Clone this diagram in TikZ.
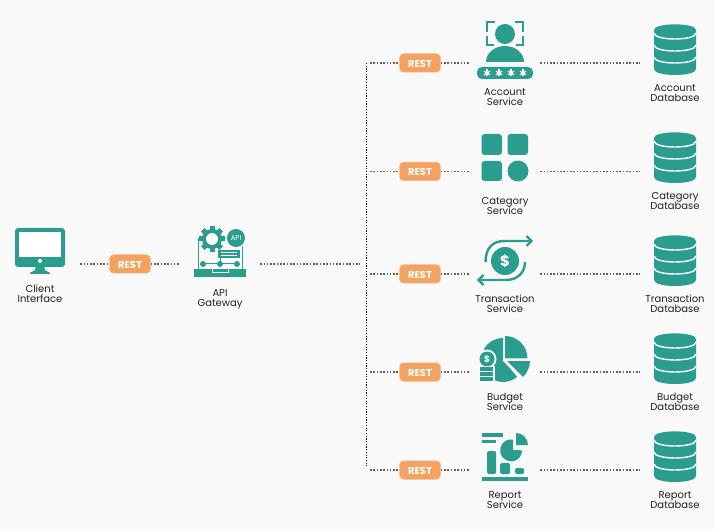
\documentclass[tikz,border=0pt]{standalone}
\usepackage{xcolor}
\usepackage{fontspec}
\setmainfont{Poppins}
\usetikzlibrary{positioning, calc}

\definecolor{teal}{HTML}{2A9D8F}
\definecolor{restorange}{HTML}{F4A261}
\definecolor{pagebg}{HTML}{F9F9F9}
\definecolor{labeltext}{HTML}{222222}

\newcommand{\capfont}{\fontsize{10}{10}\selectfont\lineskiplimit=-10pt\relax}

\tikzset{
    restbox/.style={fill=restorange, draw=restorange!70!white, line width=0.5pt, rounded corners=4pt, minimum width=41pt, minimum height=18.5pt, inner sep=0pt, text=white, text height=8.5pt, text depth=0pt, font=\fontsize{10}{10}\bfseries\selectfont},
    iconbox/.style={minimum width=70pt, minimum height=20pt, inner sep=0pt},
    gatebox/.style={minimum width=80pt, minimum height=20pt, inner sep=0pt},
    caption/.style={align=center, inner sep=0pt, text=labeltext, font=\capfont},
    link/.style={draw=black!62, line width=1.5pt, dash pattern=on 1.6pt off 1.7pt},
    busline/.style={draw=black, line width=1pt, dash pattern=on 1.2pt off 1.5pt},
    whitetext/.style={text=white, inner sep=0pt},
}

\begin{document}
\begin{tikzpicture}[x=1pt, y=1pt, yscale=-1]
    \path[use as bounding box, fill=pagebg] (0,0) rectangle (715,529);

    % Left part
    \node[gatebox] (client) at (40,264) {};
    \node[restbox] (restclient) at (130,264) {REST};
    \node[gatebox] (gateway) at (220,264) {};
    \coordinate (gatewayend) at (360,264);
    \draw[link] (client.east) -- (restclient.west);
    \draw[link] (restclient.east) -- (gateway.west);
    \draw[link] (gateway.east) -- (gatewayend);
    \node[caption] (clientlabel) at (40,294) {Client\\Interface};
    \node[caption] (gatewaylabel) at (220,299.5) {API\\Gateway};

    % Vertical line
    \coordinate (bustop) at (366,63);
    \coordinate (busbottom) at (366,466);
    \draw[busline] (bustop) -- (busbottom);

    % Service rows
    \foreach \name/\title/\rowy/\capy/\dby/\dbcapy in {
        account/Account/63/97.5/50/93,
        category/Category/171.5/206/158/201,
        transaction/Transaction/274/304/261/304,
        budget/Budget/372/402/359/402,
        report/Report/470/500/457/500} {
        \coordinate (\name start) at (370,\rowy);
        \node[restbox] (rest\name) at (420,\rowy) {REST};
        \node[iconbox] (\name) at (505,\rowy) {};
        \node[iconbox] (\name db) at (675,\rowy) {};
        \draw[link] (\name start) -- (rest\name.west);
        \draw[link] (rest\name.east) -- (\name.west);
        \draw[link] (\name.east) -- (\name db.west);
        \node[caption] (\name label) at (505,\capy) {\title\\Service};
        \node[caption] (\name dblabel) at (675,\dbcapy) {\title\\Database};
        % Database
        \begin{scope}[shift={(675,\dby)}]
            \fill[teal] (-21,-20) .. controls (-21,-27.5) and (21,-27.5) .. (21,-20) -- (21,19) .. controls (21,27) and (-21,27) .. (-21,19) -- cycle;
            \foreach \y in {-17,-5,7} {
                \draw[white, line width=1.4pt] (-21,\y) .. controls (-21,{\y+8}) and (21,{\y+8}) .. (21,\y);
            }
        \end{scope}
    }

    % Client icon
    \fill[teal, rounded corners=3pt] (15,228) rectangle (65,267);
    \fill[white] (19,232) rectangle (61,257);
    \fill[white] (40,261) circle (2);
    \fill[teal] (36,266) -- (44,266) -- (45,270) -- (50,273) -- (50,274) -- (30,274) -- (30,273) -- (35,270) -- cycle;

    % Gateway icon
    \draw[teal, line width=1pt] (198,269) -- (198,239) -- (242,239) -- (242,269);
    \fill[teal] (212,239) circle (10);
    \foreach \a in {0,45,...,315} {
        \fill[teal, rotate around={\a:(212,239)}] (209.5,226) rectangle (214.5,232);
    }
    \fill[pagebg] (212,239) circle (6);
    \fill[pagebg] (236,238) circle (10.5);
    \fill[teal] (236,238) circle (9);
    \node[whitetext, font=\fontsize{7}{8}\selectfont] (apitag) at (236,238) {API};
    \fill[teal] (218,250) rectangle (240,258);
    \draw[white, line width=0.5pt] (221,252.5) -- (237,252.5) (221,255.5) -- (237,255.5);
    \draw[teal, line width=1pt] (203,264) -- (237,264) (220,264) -- (220,256);
    \foreach \x in {203,220,237} {
        \fill[teal] (\x,264) circle (3);
    }
    \fill[teal] (194,269) rectangle (246,277);
    \draw[white, line width=0.7pt] (212,269) -- (212,272) -- (228,272) -- (228,269);

    % Account icon
    \fill[teal] (505,34) circle (10);
    \fill[teal] (486,62) arc[start angle=180, end angle=360, x radius=19, y radius=16] -- cycle;
    \fill[teal, rounded corners=5pt] (477,67) rectangle (533,79);
    \foreach \x in {487,499,511,523} {
        \foreach \a in {0,60,120} {
            \draw[white, line width=1.2pt, rotate around={\a:(\x,73)}] (\x,69.5) -- (\x,76.5);
        }
    }
    \draw[teal, line width=1.3pt] (495,22) -- (487,22) -- (487,32)
        (515,22) -- (523,22) -- (523,32)
        (487,36) -- (487,45) -- (494,45)
        (523,36) -- (523,45) -- (516,45);

    % Category icon
    \fill[teal, rounded corners=3pt] (481.5,134) rectangle (502,155);
    \fill[teal, rounded corners=3pt] (507.5,134) rectangle (528,155);
    \fill[teal, rounded corners=3pt] (481.5,161) rectangle (502,181);
    \fill[teal] (518,171) circle (10.5);

    % Transaction icon
    \fill[teal] (505,261) circle (14);
    \node[whitetext, font=\fontsize{15}{18}\bfseries\selectfont] (txdollar) at (505,261) {\$};
    \draw[teal, line width=2.4pt] (485.5,262) .. controls (485.5,248) and (493,241) .. (504,241) -- (530,241);
    \draw[teal, line width=2.2pt, line join=miter] (526.5,236) -- (531.5,241) -- (526.5,246);
    \draw[teal, line width=2.4pt] (525,262) .. controls (525,273) and (517,280) .. (506,280) -- (480,280);
    \draw[teal, line width=2.2pt, line join=miter] (483.5,275) -- (478.5,280) -- (483.5,285);

    % Budget icon
    \fill[teal] (503,360) -- ++(-90:22) arc[start angle=-90, end angle=-310, radius=22] -- cycle;
    \fill[teal] (505,358.5) -- (505,336) arc[start angle=-90, end angle=0, radius=22.5] -- cycle;
    \fill[teal] (507,361) -- (530,361) .. controls (530,367) and (527,373) .. (523,377) -- cycle;
    \draw[pagebg, line width=1.2pt] (503,360) -- (522,379);
    \fill[pagebg] (487,359) circle (9.5);
    \fill[teal] (487,359) circle (7.5);
    \node[whitetext, font=\fontsize{9}{10}\bfseries\selectfont] (coindollar) at (487,359) {\$};
    \fill[pagebg] (478,366) rectangle (495,382);
    \fill[teal] (480,367) rectangle (493,370.5);
    \fill[teal] (480,372) rectangle (493,375.5);
    \fill[teal] (480,377) rectangle (493,380.5);

    % Report icon
    \fill[teal] (482,433) rectangle (503,437);
    \fill[teal] (482,440) rectangle (496,443);
    \fill[teal, rounded corners=1.5pt] (487,451) rectangle (496,474);
    \fill[teal, rounded corners=1.5pt] (500,463) rectangle (510,474);
    \fill[teal, rounded corners=1.5pt] (515,468) rectangle (524,474);
    \fill[teal] (482,477) rectangle (528,481);
    \fill[teal] (513,450) -- (513,439.5) arc[start angle=-80, end angle=-360, radius=11] -- cycle;
    \fill[teal] (516,445) -- (516,433) arc[start angle=-90, end angle=0, radius=12] -- cycle;
\end{tikzpicture}
\end{document}
